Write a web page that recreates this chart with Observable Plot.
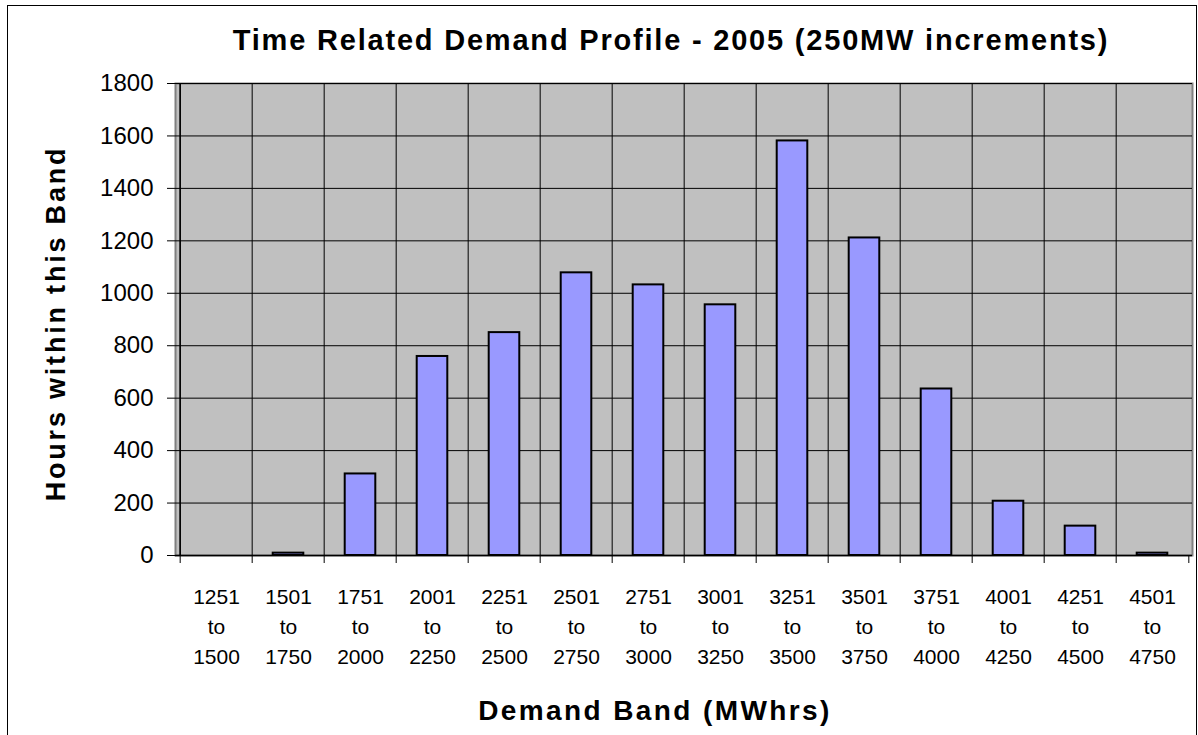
<!DOCTYPE html>
<html><head><meta charset="utf-8">
<script src="https://cdn.jsdelivr.net/npm/d3@7"></script>
<script src="https://cdn.jsdelivr.net/npm/@observablehq/plot@0.6"></script>
<style>
body{margin:0;background:#fff;}
#wrap{position:relative;width:1198px;height:735px;overflow:hidden;}
#border{position:absolute;left:7px;top:5px;width:1190px;height:760px;border:1px solid #000;box-sizing:border-box;pointer-events:none;}
svg{display:block;}
g[font-size="29"] text{letter-spacing:1.8px;}
g[font-size="28"] text{letter-spacing:2.4px;}
g[font-size="27"] text{letter-spacing:2.8px;}
</style></head><body>
<div id="wrap"><div id="chart"></div><div id="border"></div></div>
<script>
const bandStarts = [1251,1501,1751,2001,2251,2501,2751,3001,3251,3501,3751,4001,4251,4501];
const bandEnds   = [1500,1750,2000,2250,2500,2750,3000,3250,3500,3750,4000,4250,4500,4750];
const hours      = [0,9,311,759,850,1078,1032,956,1581,1211,635,207,112,9];
const yTicks     = [0,200,400,600,800,1000,1200,1400,1600,1800];
const title  = "Time Related Demand Profile - 2005 (250MW increments)";
const xTitle = "Demand Band (MWhrs)";
const yTitle = "Hours within this Band";

const bands = bandStarts.map((s, i) => ({band: `${s}\nto\n${bandEnds[i]}`, hours: hours[i]}));

const W = 1198, H = 735, mL = 175, mR = 6, mT = 83, mB = 180;
const step = (W - mL - mR) / bands.length;
const barInset = step * 0.285;

const chart = Plot.plot({
  width: W, height: H,
  marginLeft: mL, marginRight: mR, marginTop: mT, marginBottom: mB,
  style: {fontFamily: "'Liberation Sans', Arial, sans-serif", color: "#000", background: "#fff"},
  x: {type: "band", domain: bands.map(d => d.band), padding: 0, axis: null},
  y: {domain: [0, 1800], axis: null, label: null},
  marks: [
    Plot.frame({fill: "#c0c0c0", stroke: "#808080", strokeWidth: 2}),
    Plot.gridY(yTicks, {stroke: "#000", strokeOpacity: 1, strokeWidth: 1}),
    Plot.ruleX(bands, {x: "band", y1: 0, y2: 1800, dx: -step / 2, stroke: "#000", strokeWidth: 1, insetTop: 8}),
    Plot.ruleX(bands.slice(-1), {x: "band", y1: 0, y2: 0, dx: step / 2, stroke: "#000", strokeWidth: 1, insetTop: 8}),
    Plot.barY(bands, {x: "band", y: "hours", fill: "#9999ff", stroke: "#000", strokeWidth: 2, insetLeft: barInset, insetRight: barInset}),
    Plot.ruleY([0], {stroke: "#000", strokeWidth: 1.5}),
    Plot.axisY(yTicks, {tickSize: 8, tickPadding: 14, fontSize: 24, label: null, tickFormat: d => String(d), stroke: "#000"}),
    Plot.ruleX(bands.slice(0, 1), {x: "band", y1: 0, y2: 1800, dx: -step / 2, stroke: "#000", strokeWidth: 1.5}),
    Plot.text(bands, {x: "band", text: "band", frameAnchor: "bottom", lineAnchor: "top", dy: 27, fontSize: 21, lineHeight: 1.43, fill: "#000"}),
    Plot.text([title], {frameAnchor: "top", lineAnchor: "middle", textAnchor: "middle", dx: -13, dy: -43, fontSize: 29, fontWeight: "bold", fill: "#000"}),
    Plot.text([xTitle], {frameAnchor: "bottom", lineAnchor: "middle", textAnchor: "middle", dx: -29, dy: 156, fontSize: 28, fontWeight: "bold", fill: "#000"}),
    Plot.text([yTitle], {frameAnchor: "left", rotate: -90, lineAnchor: "middle", textAnchor: "middle", dx: -119, dy: 4, fontSize: 27, fontWeight: "bold", fill: "#000"})
  ]
});
document.getElementById("chart").appendChild(chart);
</script>
</body></html>
